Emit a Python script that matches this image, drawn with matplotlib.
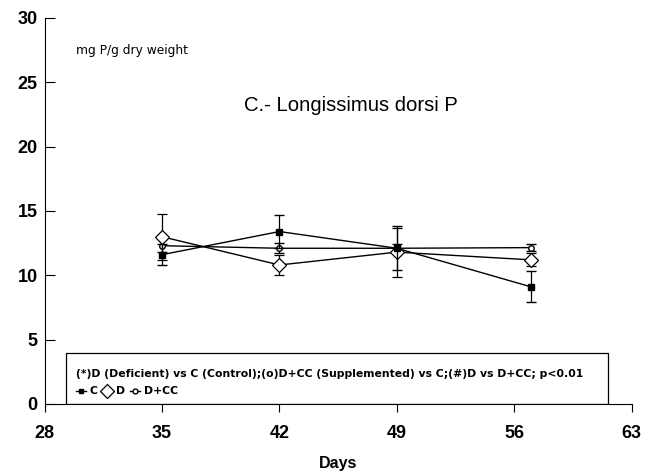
import matplotlib
matplotlib.use("Agg")
import matplotlib.pyplot as plt
from matplotlib.patches import Rectangle
from matplotlib.lines import Line2D

plt.rcParams['font.family'] = ['Liberation Sans', 'DejaVu Sans']

days = [35, 42, 49, 57]
c_vals = [11.6, 13.4, 12.1, 9.1]
c_err = [0.8, 1.3, 1.7, 1.2]
d_vals = [13.0, 10.8, 11.8, 11.2]
d_err = [1.8, 0.8, 1.9, 0.5]
dcc_vals = [12.3, 12.1, 12.1, 12.15]
dcc_err = [0.5, 0.4, 0.3, 0.3]

xticks = [28, 35, 42, 49, 56, 63]
yticks = [0, 5, 10, 15, 20, 25, 30]

fig = plt.figure(figsize=(6.55, 4.73), dpi=100)
ax = fig.add_axes([0.068, 0.146, 0.8965, 0.816])
ax.set_xlim(28, 63)
ax.set_ylim(0, 30)

lw = 1.0
ax.errorbar(days, dcc_vals, yerr=dcc_err, color='black', lw=lw, marker='o', ms=4,
            mfc='white', mec='black', capsize=3.5, elinewidth=0.9, zorder=3)
ax.errorbar(days, d_vals, yerr=d_err, color='black', lw=lw, marker='D', ms=7,
            mfc='white', mec='black', mew=0.9, capsize=3.5, elinewidth=0.9, zorder=4)
ax.errorbar(days, c_vals, yerr=c_err, color='black', lw=lw, marker='s', ms=4,
            mfc='black', mec='black', capsize=3.5, elinewidth=0.9, zorder=5)

ax.set_xticks(xticks)
ax.set_yticks(yticks)
ax.set_xticklabels([str(t) for t in xticks], fontweight='bold', fontsize=13)
ax.set_yticklabels([str(t) for t in yticks], fontweight='bold', fontsize=13)
ax.tick_params(axis='y', direction='in', length=7, pad=5)
ax.tick_params(axis='x', direction='out', length=6, pad=9)
for s in ['top', 'right']:
    ax.spines[s].set_visible(False)
ax.set_xlabel('Days', fontweight='bold', fontsize=11.5, labelpad=10)

ax.text(29.9, 27.5, 'mg P/g dry weight', fontsize=8.8, va='center', ha='left',
        family=['DejaVu Sans'])
ax.text(46.26, 23.2, 'C.- Longissimus dorsi P', fontsize=14.6, va='center', ha='center')

# annotation box
ax.add_patch(Rectangle((29.3, 0), 32.3, 3.95, fill=False, edgecolor='black', lw=0.9, zorder=2))
ax.text(29.9, 2.35, '(*)D (Deficient) vs C (Control);(o)D+CC (Supplemented) vs C;(#)D vs D+CC; p<0.01',
        fontsize=7.8, fontweight='bold', va='center', ha='left', family=['DejaVu Sans'])

handles = [
    Line2D([], [], color='black', lw=1, marker='s', ms=3, mfc='black'),
    Line2D([], [], color='none', lw=0, marker='D', ms=7, mfc='white', mec='black', mew=0.9),
    Line2D([], [], color='black', lw=1, marker='o', ms=3.5, mfc='white', mec='black'),
]
labels = ['C', 'D', 'D+CC']
ax.legend(handles, labels, loc='lower left', bbox_to_anchor=(0.04, 0.0), ncol=3, frameon=False,
          prop={'weight': 'bold', 'size': 7.8, 'family': 'DejaVu Sans'}, handlelength=1.0,
          handletextpad=0.3, columnspacing=0.4, borderpad=0.2)

fig.savefig('out.png', dpi=100)
